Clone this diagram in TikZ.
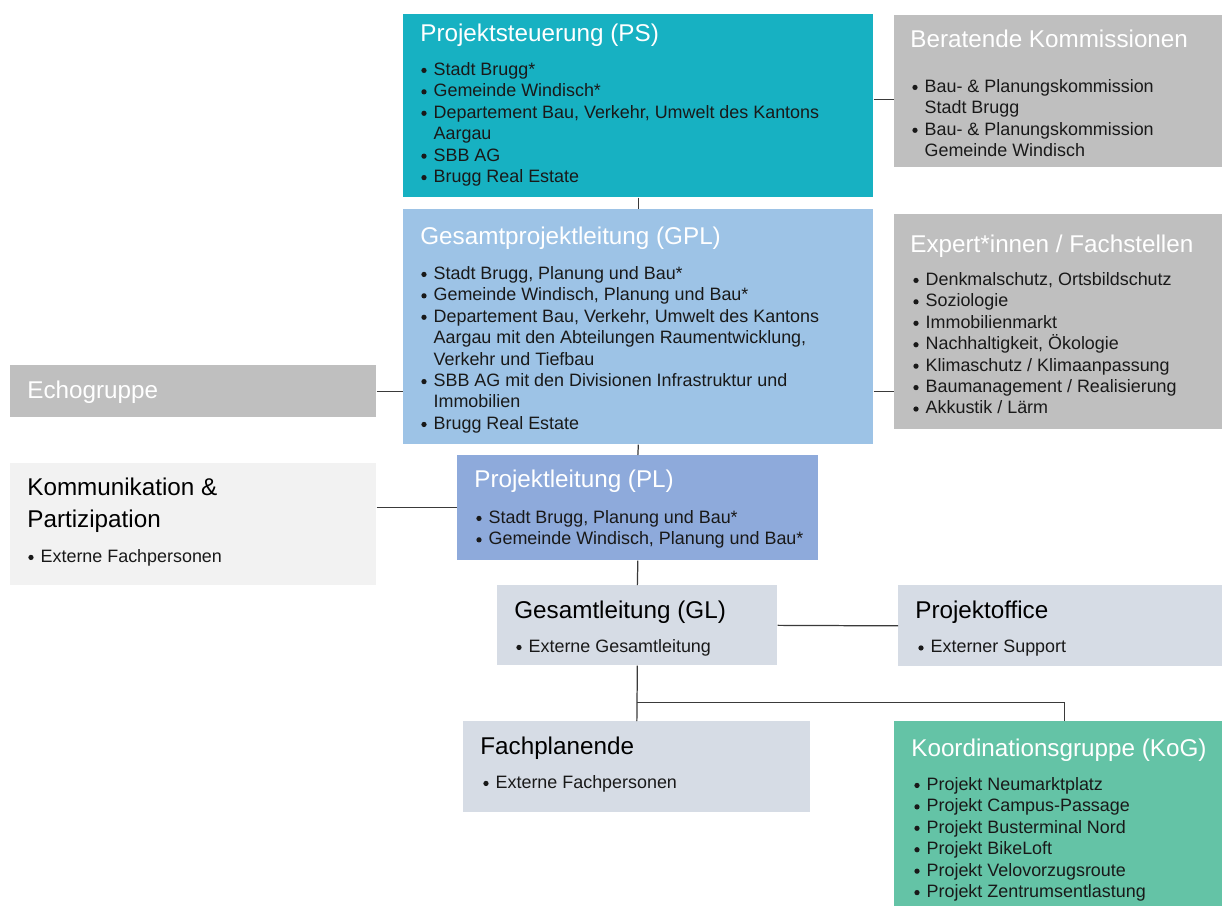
\documentclass[tikz,border=0pt]{standalone}
\usepackage{fontspec}
\setmainfont{Liberation Sans}
\usepackage{tikz}
\usetikzlibrary{calc}

\definecolor{psteal}{HTML}{17B1C2}
\definecolor{grau}{HTML}{BFBFBF}
\definecolor{hellgrau}{HTML}{F2F2F2}
\definecolor{gplblau}{HTML}{9DC3E6}
\definecolor{plblau}{HTML}{8EAADB}
\definecolor{graublau}{HTML}{D6DCE5}
\definecolor{kogruen}{HTML}{64C3A6}
\definecolor{linie}{HTML}{3A3A3A}

\newcommand{\bpt}{\makebox[7pt][l]{\tikz[baseline=0pt]\fill (1.5pt,2.8pt) circle[radius=1.5pt];}}
\newcommand{\bin}{\hspace*{7pt}}

\begin{document}
\begin{tikzpicture}[x=0.02cm,y=-0.02cm,
	box/.style 2 args={rectangle,inner sep=0pt,anchor=north west,minimum width=#1*0.02cm,minimum height=#2*0.02cm},
	ttl/.style={anchor=base west,inner sep=0pt,font=\fontsize{13.8}{18}\selectfont},
	lst/.style={anchor=north west,inner sep=0pt,align=left,text=black!90,font=\fontsize{10.2}{12.2}\selectfont},
	link/.style={draw=linie,line width=0.7pt}]
\useasboundingbox (0,0) rectangle (1223,906);
% Kaesten
\node[box={470}{183},fill=psteal] (ps) at (403,14) {};
\node[box={328}{152},fill=grau] (ber) at (894,15) {};
\node[box={470}{235},fill=gplblau] (gpl) at (403,209) {};
\node[box={328}{215},fill=grau] (exp) at (894,214) {};
\node[box={366}{52},fill=grau] (echo) at (10,365) {};
\node[box={366}{122},fill=hellgrau] (kom) at (10,463) {};
\node[box={361}{105},fill=plblau] (pl) at (457,455) {};
\node[box={280}{80},fill=graublau] (gl) at (497,585) {};
\node[box={324}{81},fill=graublau] (po) at (898,585) {};
\node[box={347}{91},fill=graublau] (fp) at (463,721) {};
\node[box={328}{185},fill=kogruen] (kog) at (894,721) {};
% Titel
\node[ttl,white] (ps-t) at (420,41) {Projektsteuerung (PS)};
\node[ttl,white] (ber-t) at (910,47) {Beratende Kommissionen};
\node[ttl,white] (gpl-t) at (420,244) {Gesamtprojektleitung (GPL)};
\node[ttl,white] (exp-t) at (910,252) {Expert*innen / Fachstellen};
\node[ttl,white] (echo-t) at (27,398) {Echogruppe};
\node[ttl] (kom-t1) at (27,495) {Kommunikation \&};
\node[ttl] (kom-t2) at (27,527) {Partizipation};
\node[ttl,white] (pl-t) at (474,487) {Projektleitung (PL)};
\node[ttl] (gl-t) at (514,618) {Gesamtleitung (GL)};
\node[ttl] (po-t) at (915,618) {Projektoffice};
\node[ttl] (fp-t) at (480,754) {Fachplanende};
\node[ttl,white] (kog-t) at (911,756) {Koordinationsgruppe (KoG)};
% Listen
\node[lst] (ps-l) at (421,62) {\bpt Stadt Brugg*\\ \bpt Gemeinde Windisch*\\
	\bpt Departement Bau, Verkehr, Umwelt des Kantons\\ \bin Aargau\\
	\bpt SBB AG\\ \bpt Brugg Real Estate};
\node[lst] (ber-l) at (912,79) {\bpt Bau- \& Planungskommission\\ \bin Stadt Brugg\\
	\bpt Bau- \& Planungskommission\\ \bin Gemeinde Windisch};
\node[lst] (gpl-l) at (421,266) {\bpt Stadt Brugg, Planung und Bau*\\
	\bpt Gemeinde Windisch, Planung und Bau*\\
	\bpt Departement Bau, Verkehr, Umwelt des Kantons\\
	\bin Aargau mit den Abteilungen Raumentwicklung,\\ \bin Verkehr und Tiefbau\\
	\bpt SBB AG mit den Divisionen Infrastruktur und\\ \bin Immobilien\\
	\bpt Brugg Real Estate};
\node[lst] (exp-l) at (913,272) {\bpt Denkmalschutz, Ortsbildschutz\\ \bpt Soziologie\\
	\bpt Immobilienmarkt\\ \bpt Nachhaltigkeit, Ökologie\\
	\bpt Klimaschutz / Klimaanpassung\\ \bpt Baumanagement / Realisierung\\
	\bpt Akkustik / Lärm};
\node[lst] (kom-l) at (28,549) {\bpt Externe Fachpersonen};
\node[lst] (pl-l) at (476,510) {\bpt Stadt Brugg, Planung und Bau*\\
	\bpt Gemeinde Windisch, Planung und Bau*};
\node[lst] (gl-l) at (516,639) {\bpt Externe Gesamtleitung};
\node[lst] (po-l) at (918,640) {\bpt Externer Support};
\node[lst] (fp-l) at (483,775) {\bpt Externe Fachpersonen};
\node[lst] (kog-l) at (914,777) {\bpt Projekt Neumarktplatz\\ \bpt Projekt Campus-Passage\\
	\bpt Projekt Busterminal Nord\\ \bpt Projekt BikeLoft\\
	\bpt Projekt Velovorzugsroute\\ \bpt Projekt Zentrumsentlastung};
% Verbindungen
\coordinate (ber-in) at ($(ber.west)+(0,8)$);
\coordinate (split) at ($(gl.south)!0.66!(fp.north)$);
\coordinate (kog-in) at ($(kog.north)+(6,0)$);
\draw[link] (ps.south) -- (gpl.north);
\draw[link] (ber-in -| ps.east) -- (ber-in);
\draw[link] (echo.east) -- (echo.east -| gpl.west);
\draw[link] (echo.east -| gpl.east) -- (echo.east -| exp.west);
\draw[link] (gpl.south) -- (pl.north);
\draw[link] (kom.east |- pl.west) -- (pl.west);
\draw[link] (pl.south) -- (gl.north);
\draw[link] (gl.east) -- (po.west);
\draw[link] (gl.south) -- (fp.north);
\draw[link] (split) -| (kog-in);
\end{tikzpicture}
\end{document}
